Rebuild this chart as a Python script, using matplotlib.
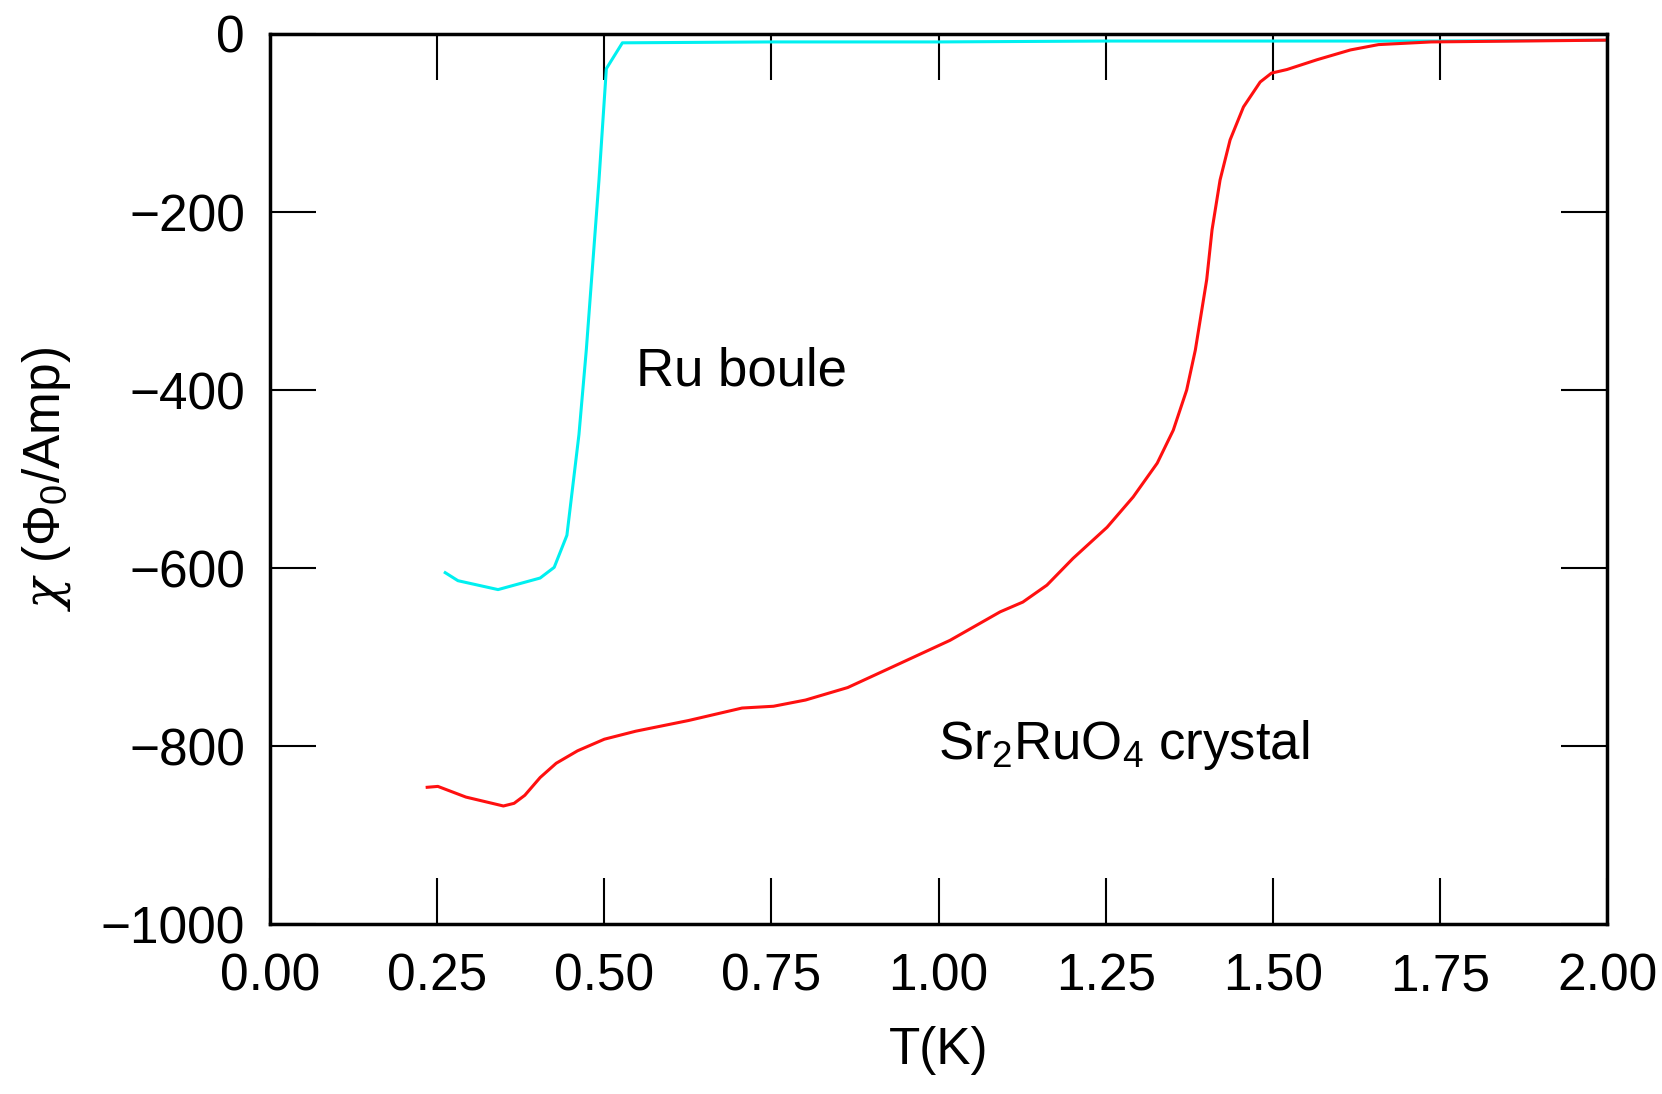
#!/usr/bin/env python3

import matplotlib
matplotlib.use('Agg')
import matplotlib.pyplot as plt

plt.rcParams.update({'font.family': ['Liberation Sans', 'DejaVu Sans'],
                     'mathtext.fontset': 'custom',
                     'mathtext.rm': 'Liberation Sans',
                     'mathtext.it': 'DejaVu Serif:italic',
                     'font.size': 37})

# Ru boule (cyan)
ru_T = [0.262, 0.281, 0.341, 0.404, 0.425, 0.444, 0.462, 0.473, 0.492, 0.503,
        0.527, 0.75, 1.0, 1.25, 1.5, 1.75, 2.0]
ru_chi = [-605, -614, -624, -611, -599, -563, -450, -355, -164, -39,
          -10, -9, -9, -8, -8, -8, -7]

# Sr2RuO4 crystal (red)
sr_T = [0.235, 0.251, 0.293, 0.349, 0.365, 0.381, 0.404, 0.428, 0.460, 0.500,
        0.547, 0.626, 0.706, 0.753, 0.801, 0.864, 0.942, 1.017, 1.092, 1.126,
        1.162, 1.201, 1.252, 1.291, 1.327, 1.351, 1.371, 1.384, 1.401, 1.409,
        1.421, 1.436, 1.456, 1.481, 1.498, 1.521, 1.566, 1.616, 1.658, 1.737, 2.0]
sr_chi = [-846, -845, -857, -867, -864, -855, -835, -819, -805, -792,
          -783, -771, -757, -755, -748, -734, -707, -681, -649, -638,
          -619, -589, -554, -520, -482, -445, -400, -355, -276, -220,
          -164, -119, -82, -54, -44, -40, -29, -18, -12, -9, -7]

xticks = [0.0, 0.25, 0.5, 0.75, 1.0, 1.25, 1.5, 1.75, 2.0]
yticks = [0, -200, -400, -600, -800, -1000]

fig = plt.figure(figsize=(16.62, 10.94), dpi=100)
ax = fig.add_axes([0.1625, 0.155, 0.8045, 0.814])

ax.plot(ru_T, ru_chi, color='#00F0F0', lw=2.2)
ax.plot(sr_T, sr_chi, color='#FF1010', lw=2.2)

ax.set_xlim(0, 2.0)
ax.set_ylim(-1000, 0)
ax.set_xticks(xticks)
ax.set_xticklabels(['%.2f' % t for t in xticks])
ax.set_yticks(yticks)
ax.set_yticklabels([('\u2212%d' % -v) if v < 0 else '0' for v in yticks])

ax.tick_params(direction='in', length=33, width=1.5, top=True, right=True,
               labelsize=37)
ax.tick_params(axis='x', pad=20)
ax.tick_params(axis='y', pad=18)
for s in ax.spines.values():
    s.set_linewidth(2.5)

ax.set_xlabel('T(K)', fontsize=37, labelpad=18)
ax.set_ylabel(r'$\mathit{\chi}$ (Φ$_0$/Amp)', fontsize=37, labelpad=20)

ax.text(0.547, -379, 'Ru boule', fontsize=38, va='center', ha='left')
ax.text(0.999, -799, 'Sr$_2$RuO$_4$ crystal', fontsize=38, va='center', ha='left')

plt.savefig('out.png', dpi=100)
